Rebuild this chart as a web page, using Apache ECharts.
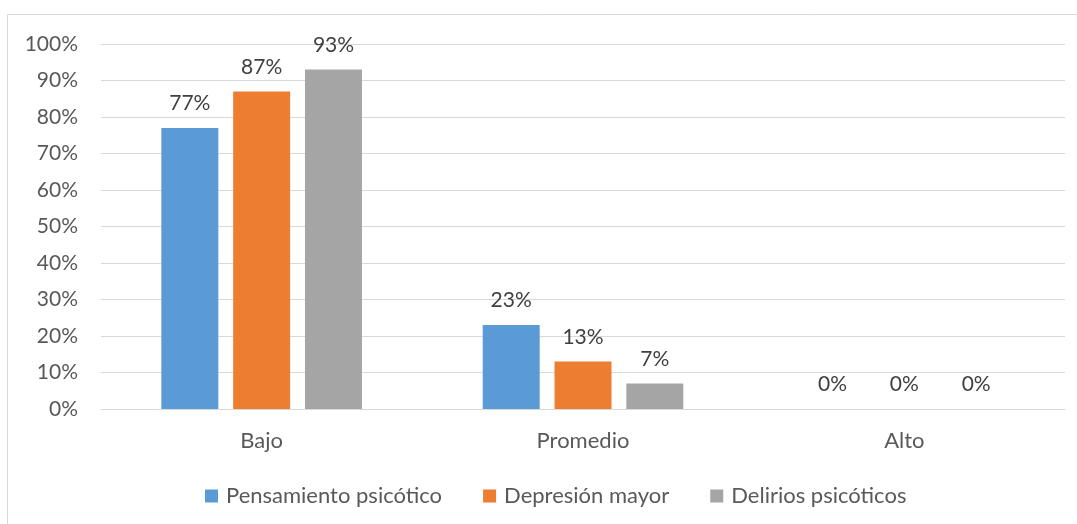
<!DOCTYPE html>
<html>
<head>
<meta charset="utf-8">
<script src="https://cdn.jsdelivr.net/npm/echarts@6/dist/echarts.min.js"></script>
<style>
  html, body { margin: 0; padding: 0; background: #fff; }
  #chart { width: 1077px; height: 524px; }
</style>
</head>
<body>
<div id="chart"></div>
<script>
// data
const categories = ["Bajo", "Promedio", "Alto"];
const seriesNames = ["Pensamiento psicótico", "Depresión mayor", "Delirios psicóticos"];
const pensamiento = [77, 23, 0];
const depresion = [87, 13, 0];
const delirios = [93, 7, 0];
const colors = ["#5B9BD5", "#ED7D31", "#A5A5A5"];

const chart = echarts.init(document.getElementById("chart"));
const font = "Lato, 'Open Sans', sans-serif";

function barSeries(name, data, color) {
  return {
    name: name,
    type: "bar",
    data: data,
    barWidth: 57,
    barGap: "26%",
    itemStyle: { color: color },
    label: {
      show: true,
      position: "top",
      distance: 14,
      formatter: "{c}%",
      color: "#404040",
      fontSize: 21,
      fontFamily: font,
    },
  };
}

const options = {
  animation: false,
  graphic: [
    {
      type: "rect",
      shape: { x: 7.5, y: 14.5, width: 1090, height: 530 },
      style: { fill: "none", stroke: "#D9D9D9", lineWidth: 1 },
      silent: true,
    },
  ],
  grid: { left: 101, right: 12, top: 44, bottom: 115 },
  legend: {
    top: 480,
    left: 200,
    icon: "rect",
    itemWidth: 13,
    itemHeight: 13,
    itemGap: 41,
    textStyle: { color: "#595959", fontSize: 22, fontFamily: font, padding: [0, 0, 0, 3] },
    data: seriesNames,
  },
  xAxis: {
    type: "category",
    data: categories,
    axisLine: { show: true, lineStyle: { color: "#D9D9D9", width: 1 } },
    axisTick: { show: false },
    axisLabel: { color: "#595959", fontSize: 22, fontFamily: font, margin: 21 },
  },
  yAxis: {
    type: "value",
    min: 0,
    max: 100,
    interval: 10,
    axisLine: { show: false },
    axisTick: { show: false },
    splitLine: { lineStyle: { color: "#D9D9D9", width: 1 } },
    axisLabel: {
      color: "#595959",
      fontSize: 21,
      fontFamily: font,
      margin: 23,
      formatter: "{value}%",
    },
  },
  series: [
    barSeries(seriesNames[0], pensamiento, colors[0]),
    barSeries(seriesNames[1], depresion, colors[1]),
    barSeries(seriesNames[2], delirios, colors[2]),
  ],
};

chart.setOption(options);
</script>
</body>
</html>
